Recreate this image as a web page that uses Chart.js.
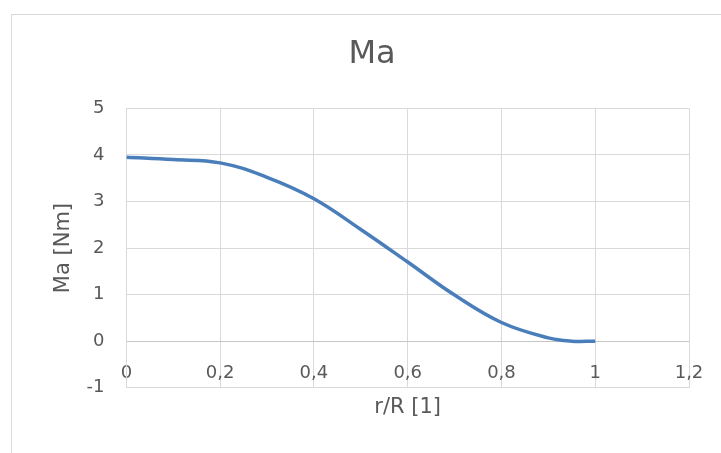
<!DOCTYPE html>
<html>
<head>
<meta charset="utf-8">
<script src="https://cdn.jsdelivr.net/npm/chart.js@4"></script>
<style>
  html, body { margin: 0; padding: 0; background: #fff; overflow: hidden; }
  #frame { position: absolute; left: 11px; top: 14px; width: 800px; height: 500px; border: 1px solid #d9d9d9; }
  #ma-chart { position: absolute; left: 0; top: 0; }
</style>
</head>
<body>
<div id="frame"></div>
<canvas id="ma-chart" width="721" height="453"></canvas>
<script>
// Ma over r/R
const rR = [0, 0.1, 0.2, 0.3, 0.4, 0.5, 0.6, 0.7, 0.8, 0.9, 0.95, 1.0];
const maNm = [3.95, 3.90, 3.83, 3.52, 3.06, 2.40, 1.70, 0.99, 0.40, 0.07, 0.0, 0.0];

const textGrey = '#595959';
const gridGrey = '#d9d9d9';

Chart.defaults.font.family = "'DejaVu Sans', sans-serif";
Chart.defaults.color = textGrey;

// decimal comma like the original
function commaLabel(v) {
  return String(Math.round(v * 10) / 10).replace('.', ',');
}

const ctx = document.getElementById('ma-chart');
new Chart(ctx, {
  type: 'line',
  data: {
    datasets: [{
      label: 'Ma',
      data: rR.map((x, i) => ({ x: x, y: maNm[i] })),
      borderColor: '#4a7ebb',
      borderWidth: 3.5,
      pointRadius: 0,
      fill: false,
      tension: 0.4
    }]
  },
  options: {
    responsive: false,
    animation: false,
    layout: { padding: { left: 55, right: 32, top: 0, bottom: 0 } },
    plugins: {
      legend: { display: false },
      tooltip: { enabled: false },
      title: {
        display: true,
        text: 'Ma',
        color: textGrey,
        font: { size: 32, weight: 'normal' },
        padding: { top: 35, bottom: 35 }
      }
    },
    scales: {
      x: {
        type: 'linear',
        min: 0,
        max: 1.2,
        afterFit: (s) => { s.height = 65.3; },
        ticks: {
          stepSize: 0.2,
          mirror: true,
          padding: 4,
          color: textGrey,
          font: { size: 18 },
          maxRotation: 0,
          callback: (v) => commaLabel(v)
        },
        grid: { color: gridGrey, drawTicks: false },
        border: { color: gridGrey },
        title: {
          display: true,
          text: 'r/R [1]',
          color: textGrey,
          font: { size: 21 },
          padding: { top: 0, bottom: 33 }
        }
      },
      y: {
        min: -1,
        max: 5,
        afterFit: (s) => { s.width = 71.4; },
        ticks: {
          stepSize: 1,
          padding: 22,
          color: textGrey,
          font: { size: 18 }
        },
        grid: {
          color: (c) => (c.tick && c.tick.value === 0 ? '#c6c6c6' : gridGrey),
          drawTicks: false
        },
        border: { color: gridGrey },
        title: {
          display: true,
          text: 'Ma [Nm]',
          color: textGrey,
          font: { size: 21 },
          padding: { top: -4, bottom: 0 }
        }
      }
    }
  }
});
</script>
</body>
</html>
